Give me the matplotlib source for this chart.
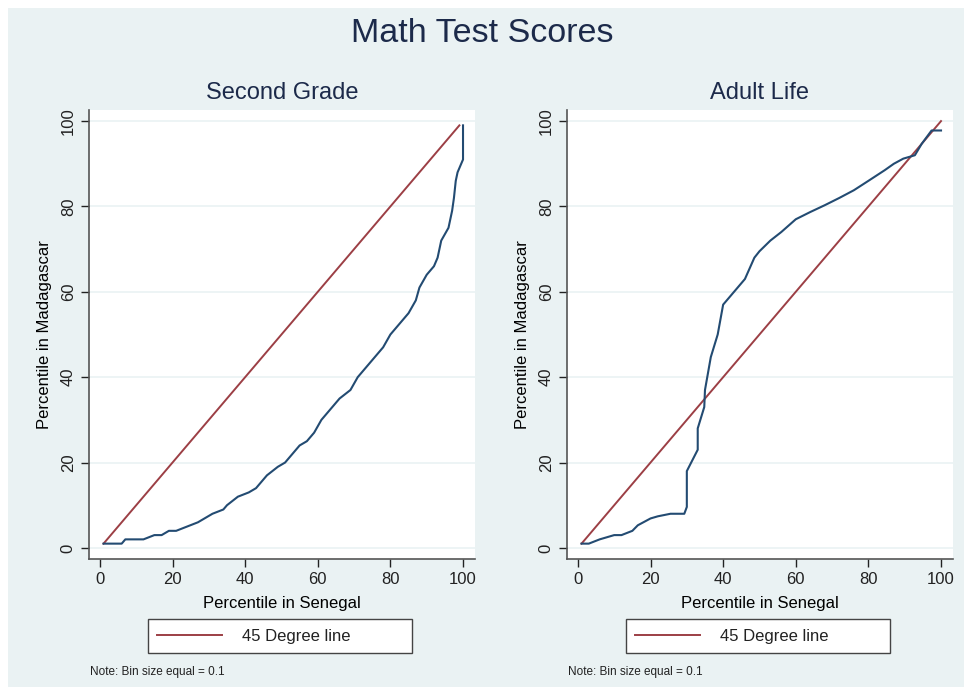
import matplotlib.pyplot as plt
from matplotlib.patches import Rectangle
from matplotlib.lines import Line2D

plt.rcParams['font.family'] = ['Liberation Sans', 'DejaVu Sans']

# percentile in Senegal (x) vs percentile in Madagascar (y)
grade2_x = [1, 3, 6, 7, 9, 12, 15, 17, 19, 21, 24, 27, 29, 31, 34, 35, 38, 41, 43,
            46, 49, 51, 53, 55, 57, 59, 61, 64, 66, 69, 71, 74, 76, 78, 80, 82,
            85, 87, 88, 90, 92, 93, 94, 96, 97, 97.5, 98, 98.5, 99, 99.5, 100, 100]
grade2_y = [1, 1, 1, 2, 2, 2, 3, 3, 4, 4, 5, 6, 7, 8, 9, 10, 12, 13, 14,
            17, 19, 20, 22, 24, 25, 27, 30, 33, 35, 37, 40, 43, 45, 47, 50, 52,
            55, 58, 61, 64, 66, 68, 72, 75, 79, 82, 86, 88, 89, 90, 91, 99]

adult_x = [1, 3, 6, 10, 12, 15, 16.5, 20, 22, 25.5, 29.3, 30, 30, 33, 33, 34.8,
           35, 36.6, 38.5, 40, 44, 46, 48.6, 50, 53, 56, 60, 64, 68, 72, 76, 80,
           84.5, 87, 89.6, 92.8, 94.7, 97.4, 100]
adult_y = [1, 1, 2, 3, 3, 4, 5.3, 6.9, 7.4, 8, 8, 9.6, 18, 23, 28, 33,
           37, 44.7, 50, 57, 61, 63, 68, 69.5, 72, 74, 77, 78.7, 80.3, 82, 83.8, 86,
           88.5, 90, 91.2, 92, 94.7, 97.8, 97.8]

ref_left = [1, 99]
ref_right = [1, 100]

yticks = [0, 20, 40, 60, 80, 100]
xticks = [0, 20, 40, 60, 80, 100]

bg = '#eaf2f3'
navy = '#234b72'
maroon = '#9c3f45'
axis_col = '#555555'

W, H = 964, 687
fig = plt.figure(figsize=(W / 100, H / 100), dpi=100, facecolor='white')
fig.patches.append(Rectangle((8 / W, 0), 1 - 8 / W, 1 - 8 / H, transform=fig.transFigure,
                             facecolor=bg, edgecolor='none', zorder=-10))

fig.text(0.5, 1 - 34 / H, 'Math Test Scores', ha='center', va='center',
         fontsize=24.5, color='#1c2a4a')

panels = [
    (89, 'Second Grade', grade2_x, grade2_y, ref_left),
    (567, 'Adult Life', adult_x, adult_y, ref_right),
]

ax_w, ax_h = 386, 449
ax_bottom = 559

for left_px, title, xs, ys, ref in panels:
    ax = fig.add_axes([left_px / W, (H - ax_bottom) / H, ax_w / W, ax_h / H])
    ax.set_facecolor('white')
    ax.set_xlim(-3.0, 103.3)
    ax.set_ylim(-2.6, 102.6)
    for y in yticks:
        ax.axhline(y, color=bg, lw=1.2, zorder=0)
    ax.plot(ref, ref, color=maroon, lw=1.4, zorder=2)
    ax.plot(xs, ys, color=navy, lw=1.5, zorder=3)

    for side in ['top', 'right']:
        ax.spines[side].set_visible(False)
    for side in ['left', 'bottom']:
        ax.spines[side].set_color(axis_col)
        ax.spines[side].set_linewidth(1.2)
    ax.set_xticks(xticks)
    ax.set_yticks(yticks)
    ax.tick_params(colors='#222222', labelsize=12, length=6, width=1, direction='out')
    ax.tick_params(axis='y', labelrotation=90)
    for lab in ax.get_yticklabels():
        lab.set_va('center')
    ax.set_xlabel('Percentile in Senegal', fontsize=12, labelpad=6)
    ax.set_ylabel('Percentile in Madagascar', fontsize=12, labelpad=6)
    ax.set_title(title, fontsize=17, color='#1c2a4a', pad=8)

    # legend box spans 148..412 px horizontally, 620..652 px vertically
    lx0 = (148 - 89) / ax_w
    lw = 264 / ax_w
    ly0 = (ax_bottom - 652) / ax_h
    lh = 32 / ax_h
    handle = Line2D([], [], color=maroon, lw=1.4)
    leg = ax.legend([handle], ['45 Degree line'], loc='center',
                    bbox_to_anchor=(lx0, ly0, lw, lh), mode='expand', fontsize=12,
                    frameon=True, fancybox=False, framealpha=1, handlelength=3.9,
                    borderpad=0.55, handletextpad=1.2, borderaxespad=0)
    leg.get_frame().set_facecolor('white')
    leg.get_frame().set_edgecolor('#444444')
    leg.get_frame().set_linewidth(1.0)
    for t in leg.get_texts():
        t.set_color('#222222')

    fig.text((left_px + 1) / W, 1 - 672 / H, 'Note: Bin size equal = 0.1',
             fontsize=8.5, va='center', color='#222222')

fig.savefig('out.png', dpi=100, facecolor='white')
